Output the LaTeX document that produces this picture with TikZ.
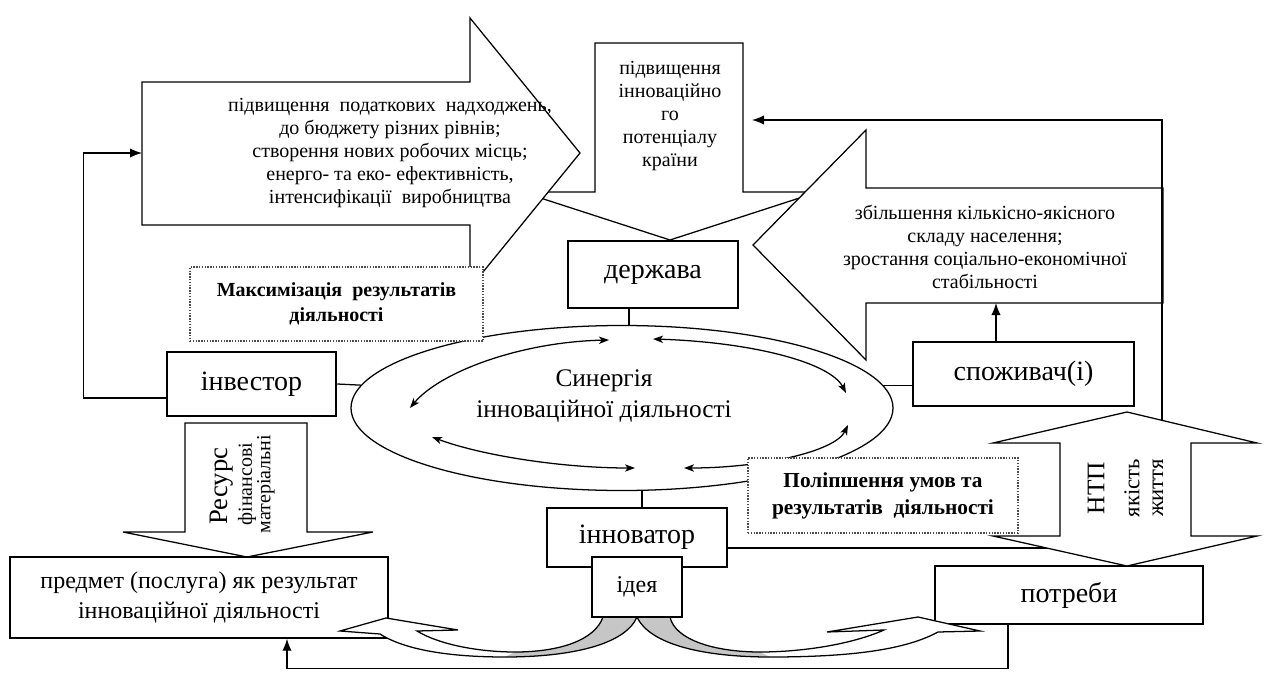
\documentclass[tikz,border=0pt]{standalone}
\usepackage{fontspec}
\setmainfont{Liberation Serif}
\usetikzlibrary{arrows.meta,shapes.geometric}
\begin{document}
\begin{tikzpicture}[x=0.75pt,y=-0.75pt,
  ln/.style={line width=0.95pt},
  blockarrow/.style={draw, line width=0.95pt, fill=white, line join=miter},
  thickbox/.style={draw, line width=1.9pt, fill=white, inner sep=0pt, align=center, font=\fontsize{21}{24}\selectfont},
  thinbox/.style={draw, line width=1.1pt, fill=white, inner sep=0pt, align=center},
  dotbox/.style={draw=black!70, densely dotted, line width=1.1pt, fill=white, inner sep=0pt, align=center},
  txt/.style={inner sep=0pt, align=center},
  fb/.style={line width=0.95pt, -{Latex[length=9pt,width=7pt]}},
  dbl/.style={line width=0.95pt, {Stealth[length=7.5pt,width=5.5pt,inset=2pt]}-{Stealth[length=7.5pt,width=5.5pt,inset=2pt]}},
  band/.style={line width=0.95pt, line join=miter}
]
\fill[white] (0,0) rectangle (1268,674);
\path[use as bounding box] (0,0) rectangle (1268,674);

% ---- top block arrows ----
\draw[blockarrow] (595,43) -- (743,43) -- (743,192) -- (818,192) -- (670,240) -- (522,192) -- (595,192) -- cycle;
\draw[blockarrow] (142,82) -- (470,82) -- (470,18) -- (580,153) -- (470,288) -- (470,225) -- (142,225) -- cycle;
\draw[blockarrow] (1163,188) -- (866,188) -- (866,130) -- (753,245) -- (866,360) -- (866,303) -- (1163,303) -- cycle;

\node[txt, font=\fontsize{15}{17.4}\selectfont] (datext) at (670,116) {підвищення\\інноваційно\\го\\потенціалу\\країни};
\node[txt, font=\fontsize{15}{17.4}\selectfont] (latext) at (390,153) {підвищення~ податкових~ надходжень,\\до бюджету різних рівнів;\\створення нових робочих місць;\\енерго- та еко- ефективність,\\інтенсифікації~ виробництва};
\node[txt, font=\fontsize{15}{17.4}\selectfont] (ratext) at (985,247) {збільшення кількісно-якісного\\складу населення;\\зростання соціально-економічної\\стабільності};

% ---- ellipse ----
\node[ellipse, draw, ln, minimum width=406.5pt, minimum height=123.75pt, inner sep=0pt] (syn) at (622,408) {};
\node[txt, font=\fontsize{19}{23}\selectfont] (syntext) at (604,396) {Синергія\\інноваційної діяльності};
\draw[dbl] (410,408) .. controls (440,372) and (520,342) .. (609,340);
\draw[dbl] (653,339) .. controls (750,342) and (830,362) .. (846,393);
\draw[dbl] (432,437) .. controls (480,455) and (560,468) .. (635,468);
\draw[dbl] (684,468) .. controls (760,468) and (835,452) .. (848,425);

% ---- main boxes ----
\node[thickbox, minimum width=127.5pt, minimum height=50.25pt] (derzh) at (653,274.5) {держава};
\node[thickbox, minimum width=126.75pt, minimum height=48pt] (invest) at (251.5,384) {інвестор};
\node[thickbox, minimum width=165.75pt, minimum height=48pt] (spozh) at (1023.5,374) {споживач(і)};
\node[thickbox, minimum width=135pt, minimum height=44.25pt] (innov) at (637,537.5) {інноватор};

\draw[ln] ([xshift=-18pt]derzh.south) -- ([xshift=-18pt]derzh.south |- syn.north);
\draw[ln] (invest.east) -- (syn.175);
\draw[ln] (syn.5) -- (syn.5 -| spozh.west);
\draw[ln] ([xshift=3.75pt]innov.north) -- ([xshift=3.75pt]innov.north |- syn.south);

% ---- feedback connectors ----
\coordinate (laW) at (142,153);
\draw[fb] ([yshift=-10.5pt]invest.west) -- ++(-82,0) |- (laW);
\coordinate (ntpTR) at (1162,420.3);
\coordinate (daE) at (752,120);
\draw[fb] (ntpTR) |- (daE);
\coordinate (raB) at (996,303);
\draw[fb] (spozh.north -| raB) -- (raB);

% ---- dotted boxes ----
\node[dotbox, minimum width=219.75pt, minimum height=55.5pt, font=\bfseries\fontsize{15}{18.75}\selectfont] (dot1) at (336.5,304) {Максимізація~ результатів\\діяльності};
\node[dotbox, minimum width=202.5pt, minimum height=56.25pt, font=\bfseries\fontsize{16}{20.25}\selectfont] (dot2) at (883,495.5) {Поліпшення умов та\\результатів~ діяльності};

% ---- resource arrow ----
\draw[blockarrow] (185,423) -- (307,423) -- (307,532) -- (373,532) -- (247,557) -- (123,532) -- (185,532) -- cycle;
\node[txt, rotate=90, font=\fontsize{20}{22}\selectfont] (res1) at (222,486) {Ресурс};
\node[txt, rotate=90, font=\fontsize{15}{17}\selectfont] (res2) at (247,484) {фінансові};
\node[txt, rotate=90, font=\fontsize{15}{17}\selectfont] (res3) at (266,484) {матеріальні};

% ---- bottom boxes ----
\node[thinbox, minimum width=283.5pt, minimum height=60.75pt, font=\fontsize{18}{22.5}\selectfont] (predmet) at (199,597.5) {предмет (послуга) як результат\\інноваційної діяльності};
\node[thinbox, minimum width=201pt, minimum height=43.5pt, font=\fontsize{21}{24}\selectfont] (potreby) at (1069,595) {потреби};

% ---- line from innovator to NTP arrow ----
\coordinate (ntpBL) at (1046.6,548);
\draw[ln] (innov.east |- ntpBL) -- (ntpBL);

% ---- NTP double arrow ----
\draw[blockarrow] (1127,412) -- (1257,443) -- (1191,443) -- (1191,536) -- (1257,536) -- (1127,566) -- (993,536) -- (1060,536) -- (1060,443) -- (993,443) -- cycle;
\node[txt, rotate=90, font=\fontsize{19}{21}\selectfont] (ntp1) at (1096,488) {НТП};
\node[txt, rotate=90, font=\fontsize{17}{19}\selectfont] (ntp2) at (1132,488) {якість};
\node[txt, rotate=90, font=\fontsize{17}{19}\selectfont] (ntp3) at (1158,488) {життя};

% ---- curved arrows from idea ----
\fill[white] (637,617) .. controls (625,645) and (570,657) .. (505,657) .. controls (450,657) and (405,650) .. (380,634) -- (340,631) -- (386,618) -- (458,630) -- (417,631) .. controls (440,645) and (480,652) .. (515,652) .. controls (560,652) and (595,640) .. (603,617) -- cycle;
\fill[gray!45] (603,617) .. controls (595,640) and (560,652) .. (515,652) -- (505,657) .. controls (570,657) and (625,645) .. (637,617) -- cycle;
\draw[band] (637,617) .. controls (625,645) and (570,657) .. (505,657) .. controls (450,657) and (405,650) .. (380,634) -- (340,631) -- (386,618) -- (458,630) -- (417,631) .. controls (440,645) and (480,652) .. (515,652) .. controls (560,652) and (595,640) .. (603,617);

\fill[white] (637,617) .. controls (650,645) and (705,657) .. (770,657) .. controls (850,657) and (905,650) .. (938,632) -- (980,631) -- (918,617) -- (827,632) -- (884,630) .. controls (850,645) and (800,652) .. (760,652) .. controls (715,652) and (675,640) .. (670,617) -- cycle;
\fill[gray!45] (670,617) .. controls (675,640) and (715,652) .. (760,652) -- (770,657) .. controls (705,657) and (650,645) .. (637,617) -- cycle;
\draw[band] (637,617) .. controls (650,645) and (705,657) .. (770,657) .. controls (850,657) and (905,650) .. (938,632) -- (980,631) -- (918,617) -- (827,632) -- (884,630) .. controls (850,645) and (800,652) .. (760,652) .. controls (715,652) and (675,640) .. (670,617);

\node[thinbox, minimum width=67.5pt, minimum height=45pt, font=\fontsize{18}{20}\selectfont] (ideya) at (637,587) {ідея};

% ---- bottom feedback ----
\draw[fb] ([xshift=-45.75pt]potreby.south) -- ++(0,44) -| ([xshift=66pt]predmet.south);
\end{tikzpicture}
\end{document}
